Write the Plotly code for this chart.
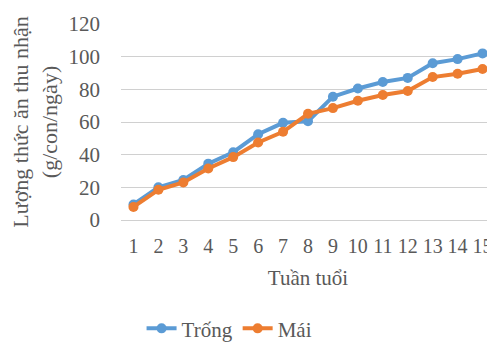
import plotly.graph_objects as go

weeks = [str(i) for i in range(1, 16)]
trong = [9.5, 20, 24.5, 34.5, 41.5, 52.5, 59.5, 60.5, 75.5, 80.5, 84.5, 87, 96, 98.5, 102]
mai = [8, 18.5, 23, 31.5, 38.5, 47.5, 54, 65, 68.5, 73, 76.5, 79, 87.5, 89.5, 92.5]

font_family = "Liberation Serif"
gray = "#595959"
fs = 21

fig = go.Figure()
fig.add_trace(go.Scatter(x=weeks, y=trong, name="Trống", mode="lines+markers",
                         line=dict(color="#5B9BD5", width=4),
                         marker=dict(size=10, color="#5B9BD5")))
fig.add_trace(go.Scatter(x=weeks, y=mai, name="Mái", mode="lines+markers",
                         line=dict(color="#ED7D31", width=4),
                         marker=dict(size=10, color="#ED7D31")))

fig.update_layout(
    width=495, height=344,
    margin=dict(l=113, r=8, t=16, b=132, autoexpand=False),
    paper_bgcolor="white", plot_bgcolor="white",
    font=dict(family=font_family, size=fs, color=gray),
    xaxis=dict(type="category", range=[-0.5, 14.5], showgrid=False, showline=False,
               tickmode="array", tickvals=weeks, ticktext=weeks,
               ticks="", tickfont=dict(size=20, color=gray), ticklabelstandoff=12,
               title=dict(text="Tuần tuổi", font=dict(size=fs, color=gray), standoff=14)),
    yaxis=dict(range=[0, 120], dtick=20, showgrid=True, gridcolor="#d0d0d0", gridwidth=1.2,
               zeroline=True, zerolinecolor="#d0d0d0", zerolinewidth=1.2,
               showline=False, ticks="", tickfont=dict(size=fs, color=gray),
               ticklabelstandoff=20,
               title=dict(text="Lượng thức ăn thu nhận<br>(g/con/ngày)",
                          font=dict(size=22, color=gray), standoff=10)),
    legend=dict(orientation="h", x=0.055, xanchor="left", y=-0.45, yanchor="top",
                font=dict(size=fs, color=gray)),
    showlegend=True,
)

fig.write_html("out.html")
